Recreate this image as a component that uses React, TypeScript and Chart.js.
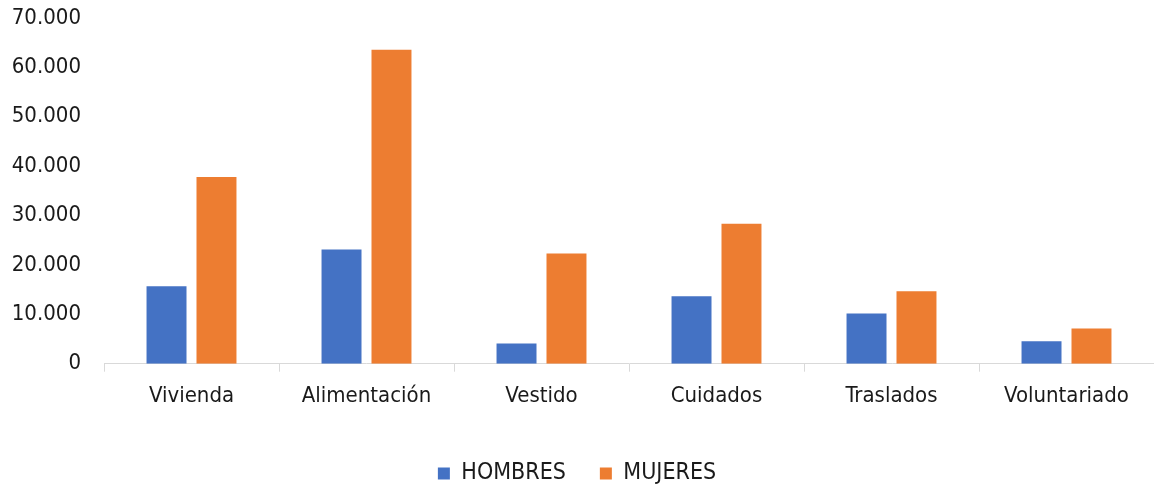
import React, { useEffect, useRef } from "react";
import { Chart, registerables } from "chart.js";

Chart.register(...registerables);

const categories = ["Vivienda", "Alimentación", "Vestido", "Cuidados", "Traslados", "Voluntariado"];
const hombres = [15680, 23100, 4090, 13660, 10160, 4550];
const mujeres = [37790, 63560, 22290, 28360, 14670, 7120];
const seriesNames = ["HOMBRES", "MUJERES"];
const yTicks = [0, 10000, 20000, 30000, 40000, 50000, 60000, 70000];

const FONT = "'DejaVu Sans Condensed', 'DejaVu Sans', sans-serif";
const fmt = (v: number) => String(v).replace(/\B(?=(\d{3})+(?!\d))/g, ".");

export default function App() {
  const ref = useRef<HTMLCanvasElement>(null);
  useEffect(() => {
    if (!ref.current) return;
    const chart = new Chart(ref.current, {
      type: "bar",
      data: {
        labels: categories,
        datasets: [
          { label: seriesNames[0], data: hombres, backgroundColor: "#4472C4", borderWidth: 0, barPercentage: 0.8, categoryPercentage: 0.571 },
          { label: seriesNames[1], data: mujeres, backgroundColor: "#ED7D31", borderWidth: 0, barPercentage: 0.8, categoryPercentage: 0.571 },
        ],
      },
      options: {
        animation: false,
        responsive: false,
        maintainAspectRatio: false,
        layout: { padding: { top: 18, right: 0, left: 0, bottom: -9 } },
        plugins: {
          tooltip: { enabled: false },
          legend: {
            position: "bottom",
            labels: {
              font: { family: FONT, size: 23 },
              color: "#1a1a1a",
              boxWidth: 12,
              boxHeight: 12,
              padding: 34,
            },
          },
        },
        scales: {
          x: {
            grid: { display: true, drawOnChartArea: false, drawTicks: true, tickLength: 8, color: "#d9d9d9", offset: true },
            border: { display: true, color: "#d9d9d9", width: 1 },
            ticks: { font: { family: FONT, size: 22 }, color: "#1a1a1a", padding: 11, maxRotation: 0 },
            afterFit: (s: any) => { s.height = 64.3; s.paddingLeft = 0; s.paddingRight = 0; },
          },
          y: {
            min: 0,
            max: 70000,
            afterBuildTicks: (s: any) => { s.ticks = yTicks.map((v) => ({ value: v })); },
            grid: { display: false, drawTicks: false },
            border: { display: false },
            ticks: { font: { family: FONT, size: 22 }, color: "#1a1a1a", padding: 23, callback: (v: any) => fmt(Number(v)) },
            afterFit: (s: any) => { s.width = 104; s.paddingTop = 0; s.paddingBottom = 0; },
          },
        },
      },
    });
    return () => chart.destroy();
  }, []);
  return (
    <div style={{ position: "fixed", left: 0, top: 0, width: 1154, height: 486, background: "#fff" }}>
      <canvas ref={ref} width={1154} height={486} style={{ width: 1154, height: 486 }} />
    </div>
  );
}
